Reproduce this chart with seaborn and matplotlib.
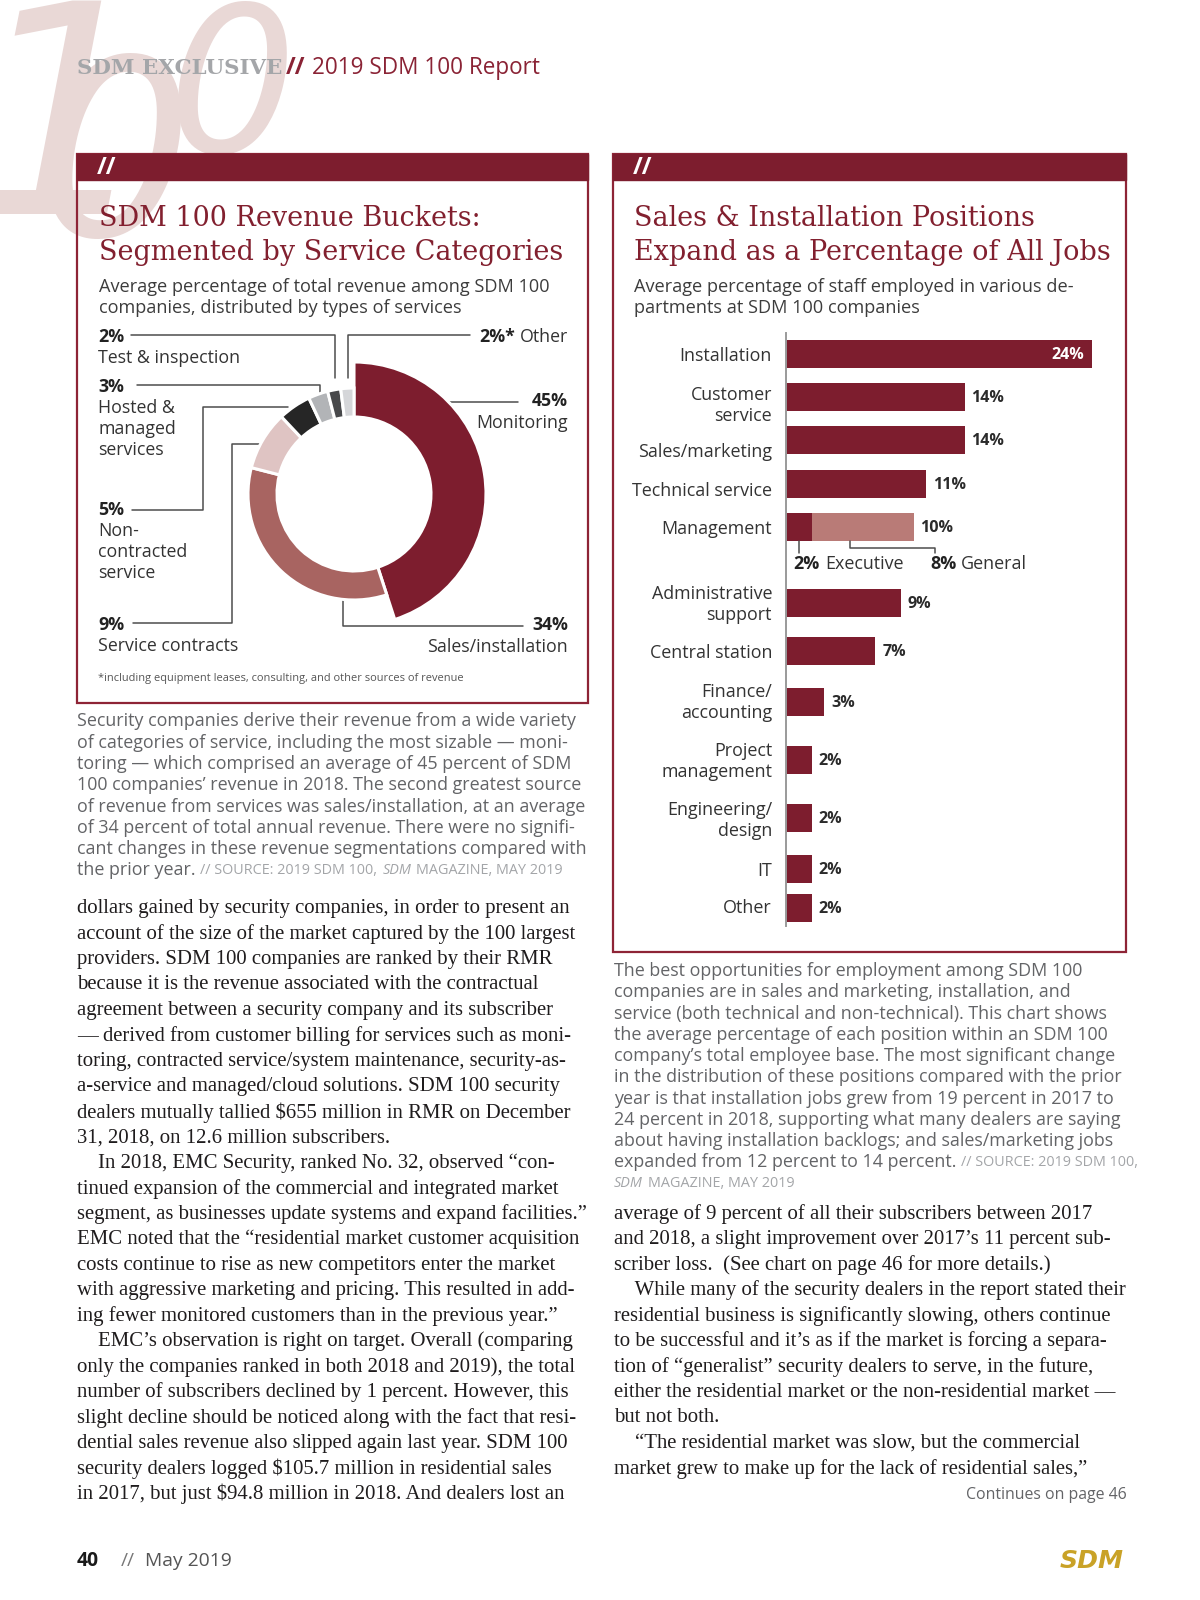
import numpy as np
import matplotlib.pyplot as plt
from matplotlib.patches import Rectangle
import seaborn as sns

# ---- chart 1: revenue buckets (donut) ----
revenue_labels = ['Monitoring', 'Sales/installation', 'Service contracts',
                  'Non-contracted service', 'Hosted & managed services',
                  'Test & inspection', 'Other']
revenue_pct = [45, 34, 9, 5, 3, 2, 2]
revenue_colors = ['#7d1d2e', '#a86461', '#dfc4c3', '#262626', '#b2b4b7', '#48494b', '#d5d6d9']

# ---- chart 2: staff positions (bars) ----
job_labels = ['Installation', 'Customer\nservice', 'Sales/marketing', 'Technical service',
              'Management', 'Administrative\nsupport', 'Central station', 'Finance/\naccounting',
              'Project\nmanagement', 'Engineering/\ndesign', 'IT', 'Other']
job_pct = [24, 14, 14, 11, 10, 9, 7, 3, 2, 2, 2, 2]
mgmt_parts = ['Executive', 'General']
mgmt_pct = [2, 8]

# row layout of the bar chart, in page pixels
row_y = [354, 397, 440, 484, 527, 603, 651, 702, 760, 818, 869, 908]
label_y = [354, 402, 450, 489, 527, 601, 651, 699, 758, 817, 869, 906]

# ---- page text ----
left_caption = [
    'Security companies derive their revenue from a wide variety',
    'of categories of service, including the most sizable \u2014 moni-',
    'toring \u2014 which comprised an average of 45 percent of SDM',
    '100 companies\u2019 revenue in 2018. The second greatest source',
    'of revenue from services was sales/installation, at an average',
    'of 34 percent of total annual revenue. There were no signifi-',
    'cant changes in these revenue segmentations compared with',
]
right_caption = [
    'The best opportunities for employment among SDM 100',
    'companies are in sales and marketing, installation, and',
    'service (both technical and non-technical). This chart shows',
    'the average percentage of each position within an SDM 100',
    'company\u2019s total employee base. The most significant change',
    'in the distribution of these positions compared with the prior',
    'year is that installation jobs grew from 19 percent in 2017 to',
    '24 percent in 2018, supporting what many dealers are saying',
    'about having installation backlogs; and sales/marketing jobs',
]
left_body = [
    'dollars gained by security companies, in order to present an',
    'account of the size of the market captured by the 100 largest',
    'providers. SDM 100 companies are ranked by their RMR',
    'because it is the revenue associated with the contractual',
    'agreement between a security company and its subscriber',
    '\u2014 derived from customer billing for services such as moni-',
    'toring, contracted service/system maintenance, security-as-',
    'a-service and managed/cloud solutions. SDM 100 security',
    'dealers mutually tallied $655 million in RMR on December',
    '31, 2018, on 12.6 million subscribers.',
    '    In 2018, EMC Security, ranked No. 32, observed \u201ccon-',
    'tinued expansion of the commercial and integrated market',
    'segment, as businesses update systems and expand facilities.\u201d',
    'EMC noted that the \u201cresidential market customer acquisition',
    'costs continue to rise as new competitors enter the market',
    'with aggressive marketing and pricing. This resulted in add-',
    'ing fewer monitored customers than in the previous year.\u201d',
    '    EMC\u2019s observation is right on target. Overall (comparing',
    'only the companies ranked in both 2018 and 2019), the total',
    'number of subscribers declined by 1 percent. However, this',
    'slight decline should be noticed along with the fact that resi-',
    'dential sales revenue also slipped again last year. SDM 100',
    'security dealers logged $105.7 million in residential sales',
    'in 2017, but just $94.8 million in 2018. And dealers lost an',
]
right_body = [
    'average of 9 percent of all their subscribers between 2017',
    'and 2018, a slight improvement over 2017\u2019s 11 percent sub-',
    'scriber loss.  (See chart on page 46 for more details.)',
    '    While many of the security dealers in the report stated their',
    'residential business is significantly slowing, others continue',
    'to be successful and it\u2019s as if the market is forcing a separa-',
    'tion of \u201cgeneralist\u201d security dealers to serve, in the future,',
    'either the residential market or the non-residential market \u2014',
    'but not both.',
    '    \u201cThe residential market was slow, but the commercial',
    'market grew to make up for the lack of residential sales,\u201d',
]

MAROON = '#7d1d2e'
ROSE = '#b97b77'
GREY_TXT = '#333333'
CAP_TXT = '#636467'
SRC_TXT = '#a3a5a8'
SANS = 'Open Sans'
SERIF = 'Liberation Serif'
SLAB = 'DejaVu Serif'

sns.set_theme(style='white')
plt.rcParams['font.family'] = [SANS, 'DejaVu Sans']

W, H = 1200, 1600
fig = plt.figure(figsize=(12, 16), dpi=100)
page = fig.add_axes([0, 0, 1, 1])
page.set_xlim(0, W)
page.set_ylim(H, 0)
page.axis('off')
renderer = fig.canvas.get_renderer()


def text_w(s, **kw):
    t = page.text(0, 0, s, **kw)
    w = t.get_window_extent(renderer).width
    t.remove()
    return w


def fit(s, px, **kw):
    # font size that makes s about px pixels wide
    return 20 * px / text_w(s, fontsize=20, **kw)


def runs(x, y, parts, ha='left', gap=5):
    ws = [text_w(s, **p) for s, p in parts]
    if ha == 'right':
        x -= sum(ws) + gap * (len(parts) - 1)
    for (s, p), w in zip(parts, ws):
        page.text(x, y, s, va='center', **p)
        x += w + gap


def px_axes(x0, y0, x1, y1):
    return fig.add_axes([x0 / W, 1 - y1 / H, (x1 - x0) / W, (y1 - y0) / H])


# ---- header: big pale "100" behind everything ----
wm = dict(family='DejaVu Sans', style='italic', color='#e9d8d6', va='baseline', zorder=0)
page.text(-30, 214, '1', fontsize=210, **wm)
page.text(36, 236, '0', fontsize=178, **wm)
page.text(168, 152, '0', fontsize=146, **wm)

s = fit('SDM EXCLUSIVE', 205, family=SLAB, weight='bold')
page.text(77, 68, 'SDM EXCLUSIVE', fontsize=s, family=SLAB, weight='bold', color='#a4a6a9', va='center')
s = fit('2019 SDM 100 Report', 228, family=SANS)
page.text(286, 68, '//', fontsize=s * 1.05, family=SANS, weight='bold', color='#8a2335', va='center')
page.text(312, 68, '2019 SDM 100 Report', fontsize=s, family=SANS, color='#8a2335', va='center')

# ---- boxes ----
for x0, x1, y1 in [(77, 588, 703), (613, 1126, 952)]:
    page.add_patch(Rectangle((x0, 154), x1 - x0, y1 - 154, fill=False, ec='#8e2436', lw=1.6, zorder=2))
    page.add_patch(Rectangle((x0, 154), x1 - x0, 26, color=MAROON, zorder=3))
    page.text(x0 + 20, 168, '//', fontsize=17, family=SANS, color='white', weight='bold',
              va='center', zorder=4)

s_title = fit('Segmented by Service Categories', 462, family=SLAB)
for x, rows in [(99, ['SDM 100 Revenue Buckets:', 'Segmented by Service Categories']),
                (634, ['Sales & Installation Positions', 'Expand as a Percentage of All Jobs'])]:
    for i, r in enumerate(rows):
        page.text(x, 219 + 34 * i, r, fontsize=s_title, family=SLAB, color='#82202f', va='center', zorder=4)

s_sub = fit('Average percentage of total revenue among SDM 100', 450, family=SANS)
for x, rows in [(99, ['Average percentage of total revenue among SDM 100',
                      'companies, distributed by types of services']),
                (634, ['Average percentage of staff employed in various de-',
                       'partments at SDM 100 companies'])]:
    for i, r in enumerate(rows):
        page.text(x, 287 + 21 * i, r, fontsize=s_sub, family=SANS, color='#3c3c3c', va='center')

# ---- donut ----
cx, cy, half = 354, 494, 140
dx = px_axes(cx - half, cy - half, cx + half, cy + half)
wedges, _ = dx.pie(revenue_pct, colors=revenue_colors, startangle=90, counterclock=False,
                   radius=106, wedgeprops=dict(width=29, edgecolor='white', linewidth=2.2))
wedges[0].set_radius(132)
wedges[0].set_width(55)
dx.set_xlim(-half, half)
dx.set_ylim(-half, half)
dx.set_aspect('equal')
dx.axis('off')

s_lab = fit('Test & inspection', 142, family=SANS)
lab = dict(fontsize=s_lab, family=SANS, color=GREY_TXT)
bold = dict(fontsize=s_lab, family=SANS, color='#222222', weight='bold')
left_notes = {5: (['Test & inspection'], 337), 4: (['Hosted &', 'managed', 'services'], 387),
              3: (['Non-', 'contracted', 'service'], 510), 2: (['Service contracts'], 625)}
for i, (rows, y) in left_notes.items():
    page.text(98, y, f'{revenue_pct[i]}%', va='center', **bold)
    for j, r in enumerate(rows):
        page.text(98, y + 21 * (j + 1), r, va='center', **lab)
runs(568, 337, [(f'{revenue_pct[6]}%*', bold), ('Other', lab)], ha='right')
for i, y in [(0, 401), (1, 625)]:
    page.text(568, y, f'{revenue_pct[i]}%', va='center', ha='right', **bold)
    page.text(568, y + 22, revenue_labels[i], va='center', ha='right', **lab)

leaders = [
    [(131, 335), (335, 335), (335, 378)],
    [(470, 335), (348, 335), (348, 378)],
    [(137, 385), (320, 385), (320, 398)],
    [(132, 510), (203, 510), (203, 407), (288, 407)],
    [(133, 623), (232, 623), (232, 444), (268, 444)],
    [(425, 402), (518, 402)],
    [(343, 592), (343, 626), (523, 626)],
]
for pts in leaders:
    xs, ys = zip(*pts)
    page.plot(xs, ys, color='#4d4d4d', lw=1.1, zorder=5)

s_fn = fit('*including equipment leases, consulting, and other sources of revenue', 362, family=SANS)
page.text(98, 679, '*including equipment leases, consulting, and other sources of revenue',
          fontsize=s_fn, family=SANS, color='#555555', va='center')

# ---- bars ----
px_per = 12.75
bx0, by0, bx1, by1 = 786, 333, 1120, 926
bx = px_axes(bx0, by0, bx1, by1)
bx.patch.set_alpha(0)
pal = {lab_: (ROSE if lab_ == 'Management' else MAROON) for lab_ in job_labels}
sns.barplot(x=job_pct, y=row_y, hue=job_labels, palette=pal, orient='y', native_scale=True,
            width=27.5 / 39, legend=False, saturation=1, errorbar=None, linewidth=0, ax=bx)
exec_vals = [mgmt_pct[0] if j == 'Management' else 0 for j in job_labels]
sns.barplot(x=exec_vals, y=row_y, color=MAROON, orient='y', native_scale=True,
            width=27.5 / 39, saturation=1, errorbar=None, linewidth=0, ax=bx)
bx.set_xlim(0, (bx1 - bx0) / px_per)
bx.set_ylim(by1, by0)
bx.set_xlabel('')
bx.set_ylabel('')
bx.set_xticks([])
for side in ['top', 'right', 'bottom']:
    bx.spines[side].set_visible(False)
bx.spines['left'].set_color('#9a9a9a')
bx.spines['left'].set_linewidth(1.4)

s_cat = fit('Technical service', 140, family=SANS)
bx.set_yticks(label_y)
bx.set_yticklabels(job_labels, fontsize=s_cat, family=SANS, color=GREY_TXT)
bx.tick_params(axis='y', length=0, pad=10)

s_val = fit('14%', 33, family=SANS, weight='bold')
top = max(job_pct)
for v, y in zip(job_pct, row_y):
    if v == top:
        bx.text(v - 0.6, y + 1, f'{v}%', ha='right', va='center', fontsize=s_val,
                family=SANS, weight='bold', color='white')
    else:
        bx.text(v + 0.55, y + 1, f'{v}%', ha='left', va='center', fontsize=s_val,
                family=SANS, weight='bold', color='#2b2b2b')

# management split callouts
m_y = row_y[job_labels.index('Management')]
bar_bot = m_y + 13.7
bx.plot([mgmt_pct[0] / 2] * 2, [bar_bot, bar_bot + 12], color='#4d4d4d', lw=1.1)
gx = mgmt_pct[0] + 3
bx.plot([gx, gx, 11.7, 11.7], [bar_bot, bar_bot + 7, bar_bot + 7, bar_bot + 12], color='#4d4d4d', lw=1.1)
bold_b = dict(fontsize=s_cat, family=SANS, weight='bold', color='#222222')
lab_b = dict(fontsize=s_cat, family=SANS, color=GREY_TXT)
runs(bx0 + 0.6 * px_per, 564, [(f'{mgmt_pct[0]}%', bold_b), (mgmt_parts[0], lab_b)])
runs(bx0 + 11.3 * px_per, 564, [(f'{mgmt_pct[1]}%', bold_b), (mgmt_parts[1], lab_b)])

# ---- captions ----
s_cap = fit(left_caption[0], 500, family=SANS)
cap = dict(fontsize=s_cap, family=SANS, color=CAP_TXT)
src = dict(fontsize=s_cap * 0.8, family=SANS, color=SRC_TXT)
src_i = dict(src, style='italic')
step = 21.26
for i, r in enumerate(left_caption):
    page.text(77, 721.5 + step * i, r, va='center', **cap)
runs(77, 721.5 + step * 7, [('the prior year.', cap), ('// SOURCE: 2019 SDM 100,', src),
                            ('SDM', src_i), ('MAGAZINE, MAY 2019', src)])
for i, r in enumerate(right_caption):
    page.text(614, 971 + step * i, r, va='center', **cap)
runs(614, 971 + step * 9, [('expanded from 12 percent to 14 percent.', cap),
                           ('// SOURCE: 2019 SDM 100,', src)])
runs(614, 971 + step * 10, [('SDM', src_i), ('MAGAZINE, MAY 2019', src)])

# ---- body copy ----
s_body = fit(left_body[1], 499, family=SERIF)
body = dict(fontsize=s_body, family=SERIF, color='#1f1c1d', va='center')
for i, r in enumerate(left_body):
    page.text(77, 908.6 + 25.46 * i, r, **body)
for i, r in enumerate(right_body):
    page.text(614, 1214 + 25.46 * i, r, **body)

s = fit('Continues on page 46', 161, family=SANS)
page.text(1127, 1495, 'Continues on page 46', fontsize=s, family=SANS, color=CAP_TXT,
          ha='right', va='center')

# ---- footer ----
s = fit('May 2019', 87, family=SANS)
page.text(77, 1561, '40', fontsize=s, family=SANS, weight='bold', color='#1a1a1a', va='center')
page.text(121, 1561, '//', fontsize=s, family=SANS, color='#777777', va='center')
page.text(145, 1561, 'May 2019', fontsize=s, family=SANS, color='#555555', va='center')
s = fit('SDM', 64, family='DejaVu Sans', weight='bold', style='italic')
page.text(1124, 1561, 'SDM', fontsize=s, family='DejaVu Sans', weight='bold', style='italic',
          color='#c9a227', ha='right', va='center')

fig.savefig('out.png', dpi=100, facecolor='white')
